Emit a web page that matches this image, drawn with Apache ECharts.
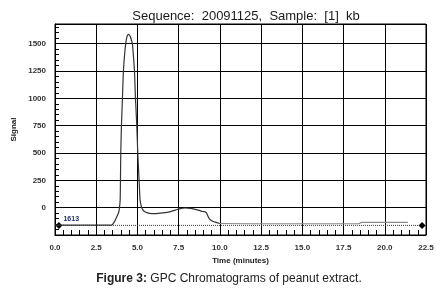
<!DOCTYPE html>
<html>
<head>
<meta charset="utf-8">
<script src="https://cdn.jsdelivr.net/npm/echarts@6/dist/echarts.min.js"></script>
<style>
	html, body { margin: 0; padding: 0; background: #fff; }
	#chart { width: 440px; height: 291px; }
</style>
</head>
<body>
<div id="chart"></div>
<script>
// trace (time in minutes, signal)
var mainTime = [0, 3.3, 3.45, 3.6, 3.74, 3.83, 3.89, 3.95, 3.97, 3.99, 4.03, 4.09, 4.15, 4.22, 4.29, 4.35, 4.45, 4.55, 4.62, 4.69, 4.76, 4.82, 4.88, 4.96, 5.02, 5.1, 5.16, 5.2, 5.25, 5.32, 5.42, 5.57, 5.75, 5.97, 6.4, 6.88, 7.3, 7.6, 7.9, 8.2, 8.5, 8.75, 8.95, 9.1, 9.18, 9.25, 9.35, 9.5, 9.7, 10.0];
var mainSignal = [-160, -160, -158, -130, -86, -55, -25, 67, 250, 500, 750, 1000, 1250, 1400, 1500, 1555, 1585, 1570, 1540, 1500, 1380, 1250, 1000, 750, 500, 250, 67, 35, 5, -18, -35, -45, -52, -55, -50, -40, -22, -8, -3, -6, -15, -25, -35, -38, -45, -70, -100, -120, -132, -145];
var tailTime = [10.0, 12, 15, 18.4, 18.6, 21.4];
var tailSignal = [-145, -147, -147, -147, -135, -135];
var baseTime = [0.24, 22.26];
var baseSignal = [-162, -162];
var baseLabel = '1613';

var xTicks = [0, 2.5, 5, 7.5, 10, 12.5, 15, 17.5, 20, 22.5];
var yTicks = [0, 250, 500, 750, 1000, 1250, 1500];

function pairs(xs, ys) {
	var out = [];
	for (var i = 0; i < xs.length; i++) out.push([xs[i], ys[i]]);
	return out;
}

var baseData = pairs(baseTime, baseSignal).map(function(p, i) {
	if (i > 0) return p;
	return {
		value: p,
		label: {
			show: true,
			formatter: baseLabel,
			position: 'right',
			distance: 1,
			offset: [0, -6],
			fontSize: 7,
			fontWeight: 'bold',
			color: '#23306b',
			fontFamily: 'Liberation Sans'
		}
	};
});

var chart = echarts.init(document.getElementById('chart'));
chart.setOption({
	animation: false,
	backgroundColor: '#fff',
	title: [{
		text: 'Sequence:  20091125,  Sample:  [1]  kb',
		left: 241,
		top: 5,
		textAlign: 'center',
		textStyle: { fontSize: 13, fontWeight: 'normal', color: '#1a1a1a', fontFamily: 'Liberation Sans' }
	}, {
		text: '{b|Figure 3:} GPC Chromatograms of peanut extract.',
		left: 224,
		top: 268,
		textAlign: 'center',
		textStyle: {
			fontSize: 12, fontWeight: 'normal', color: '#222', fontFamily: 'Liberation Sans',
			rich: { b: { fontSize: 12, fontWeight: 'bold', color: '#222', fontFamily: 'Liberation Sans' } }
		}
	}],
	grid: { left: 55, right: 14, top: 24, bottom: 56, show: true, borderColor: '#000', borderWidth: 1 },
	xAxis: {
		type: 'value',
		min: 0,
		max: 22.5,
		interval: 2.5,
		name: 'Time (minutes)',
		nameLocation: 'middle',
		nameGap: 18,
		nameTextStyle: { fontSize: 8, fontWeight: 'bold', color: '#222', fontFamily: 'Liberation Sans' },
		axisLine: { onZero: false, lineStyle: { color: '#000' } },
		axisTick: { show: true, inside: true, length: 5, lineStyle: { color: '#000' } },
		minorTick: { show: true, splitNumber: 5, length: 5, lineStyle: { color: '#000' } },
		splitLine: { show: true, lineStyle: { color: '#000', width: 1 } },
		axisLabel: {
			margin: 9, fontSize: 8, fontWeight: 'bold', color: '#333', fontFamily: 'Liberation Sans',
			formatter: function(v) { return xTicks.indexOf(v) >= 0 ? v.toFixed(1) : ''; }
		}
	},
	yAxis: {
		type: 'value',
		min: -250,
		max: 1680,
		interval: 250,
		name: 'Signal',
		nameLocation: 'middle',
		nameGap: 31,
		nameTextStyle: { fontSize: 8, fontWeight: 'bold', color: '#222', fontFamily: 'Liberation Sans' },
		axisLine: { onZero: false, lineStyle: { color: '#000' } },
		axisTick: { show: true, inside: true, length: 4, lineStyle: { color: '#000' } },
		minorTick: { show: true, splitNumber: 5, length: 4, lineStyle: { color: '#000' } },
		splitLine: { show: true, lineStyle: { color: '#000', width: 1 } },
		axisLabel: {
			margin: 9, fontSize: 8, fontWeight: 'bold', color: '#333', fontFamily: 'Liberation Sans',
			formatter: function(v) { return yTicks.indexOf(v) >= 0 ? String(v) : ''; }
		}
	},
	series: [{
		type: 'line',
		data: baseData,
		symbol: 'diamond',
		symbolSize: 7,
		itemStyle: { color: '#000' },
		lineStyle: { color: '#333', width: 1, type: 'dotted' },
		z: 3
	}, {
		type: 'line',
		data: pairs(tailTime, tailSignal),
		showSymbol: false,
		lineStyle: { color: '#8a8a8a', width: 1.2 },
		z: 4
	}, {
		type: 'line',
		data: pairs(mainTime, mainSignal),
		showSymbol: false,
		smooth: 0.3,
		lineStyle: { color: '#333', width: 1.2 },
		z: 5
	}]
});
</script>
</body>
</html>
